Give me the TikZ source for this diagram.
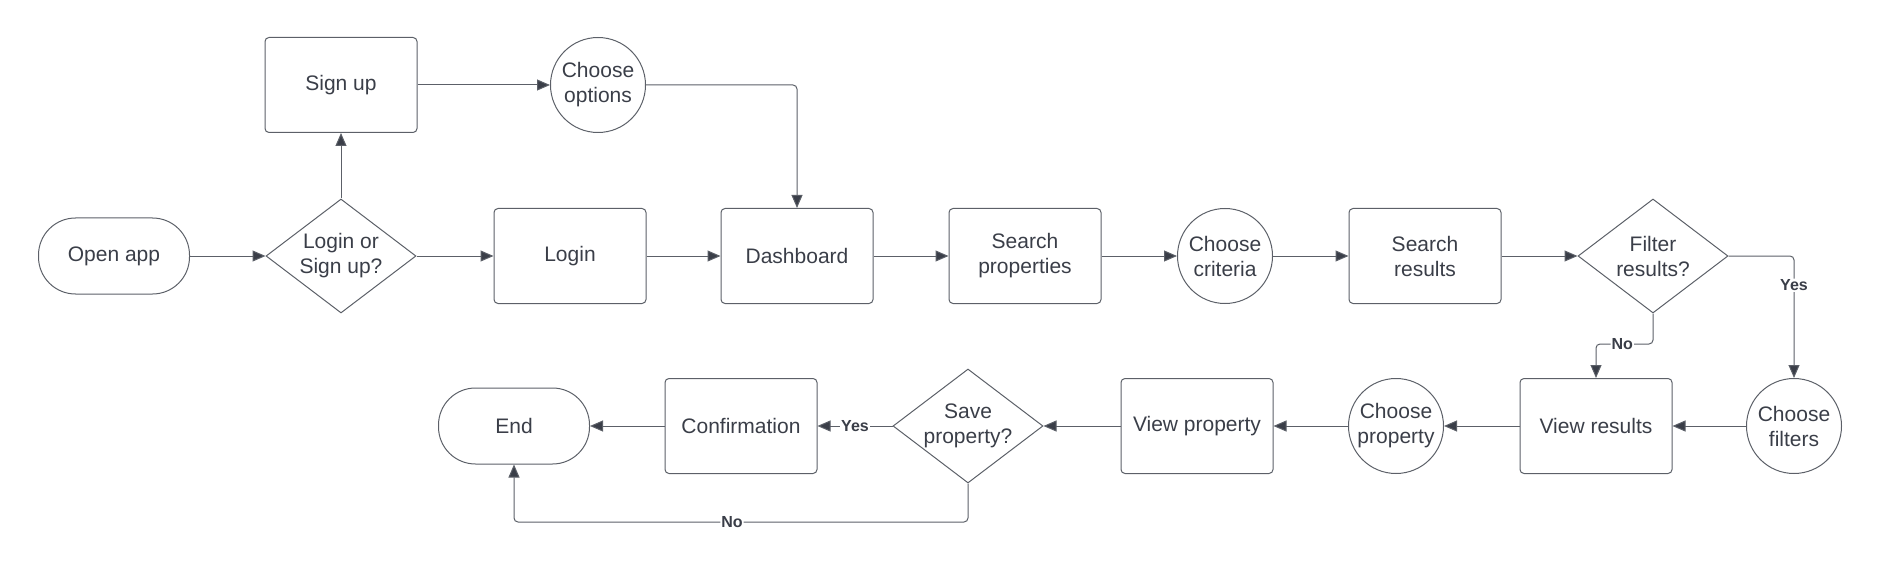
\documentclass[tikz,border=0pt]{standalone}
\usepackage{fontspec}
\setmainfont{Liberation Sans}
\usepackage{tikz}
\usetikzlibrary{arrows.meta, shapes.geometric}

\definecolor{inkdark}{HTML}{3A3E48}
\definecolor{edgegray}{HTML}{5C6068}

\begin{document}
\begin{tikzpicture}[x=1pt, y=-1pt,
    every node/.style={text=inkdark, font=\fontsize{21}{25}\selectfont, align=center},
    procbox/.style={draw=edgegray, line width=1pt, rectangle, rounded corners=4pt, minimum width=152pt, minimum height=95pt, inner sep=0pt},
    termbox/.style={draw=edgegray, line width=1pt, rectangle, rounded corners=37pt, minimum width=151pt, minimum height=76pt, inner sep=0pt},
    decbox/.style={draw=edgegray, line width=1pt, diamond, shape aspect=1.316, minimum width=150pt, minimum height=114pt, inner sep=0pt},
    choicebox/.style={draw=edgegray, line width=1pt, circle, minimum size=95pt, inner sep=0pt},
    flow/.style={draw=edgegray, line width=1pt, rounded corners=4pt, -{Triangle[length=13pt, width=11pt, fill=inkdark]}},
    flowlbl/.style={fill=white, inner sep=1pt, font=\fontsize{16}{19}\bfseries}]
    \useasboundingbox (0,0) rectangle (1882,572);

    % top branch
    \node[procbox] (signup) at (341,85) {Sign up};
    \node[choicebox] (options) at (598,85) {Choose\\options};

    % main row
    \node[termbox] (open) at (114,256) {Open app};
    \node[decbox] (logdec) at (341,256) {Login or\\Sign up?};
    \node[procbox] (login) at (570,256) {Login};
    \node[procbox] (dash) at (797,256) {Dashboard};
    \node[procbox] (search) at (1025,256) {Search\\properties};
    \node[choicebox] (criteria) at (1225,256) {Choose\\criteria};
    \node[procbox] (results) at (1425,256) {Search\\results};
    \node[decbox] (filtdec) at (1653,256) {Filter\\results?};

    % lower row
    \node[choicebox] (filters) at (1794,426) {Choose\\filters};
    \node[procbox] (viewres) at (1596,426) {View results};
    \node[choicebox] (chprop) at (1396,426) {Choose\\property};
    \node[procbox] (viewprop) at (1197,426) {View property};
    \node[decbox] (savedec) at (968,426) {Save\\property?};
    \node[procbox] (confirm) at (741,426) {Confirmation};
    \node[termbox] (finish) at (514,426) {End};

    \coordinate (filtno) at (1653,344);
    \coordinate (saveno) at (968,522);

    \foreach \a/\b in {open/logdec, logdec/signup, logdec/login, signup/options, login/dash, dash/search, search/criteria, criteria/results, results/filtdec, filters/viewres, viewres/chprop, chprop/viewprop, viewprop/savedec, confirm/finish} {
        \draw[flow] (\a) -- (\b);
    }

    \draw[flow] (options.east) -| (dash.north);
    \draw[flow] (filtdec.east) -| node[flowlbl, pos=0.62]{Yes} (filters.north);
    \draw[flow] (filtdec.south) -- (filtno) -| node[flowlbl, pos=0.27]{No} (viewres.north);
    \draw[flow] (savedec) -- node[flowlbl]{Yes} (confirm);
    \draw[flow] (savedec.south) -- (saveno) -| node[flowlbl, pos=0.26]{No} (finish.south);

\end{tikzpicture}
\end{document}
